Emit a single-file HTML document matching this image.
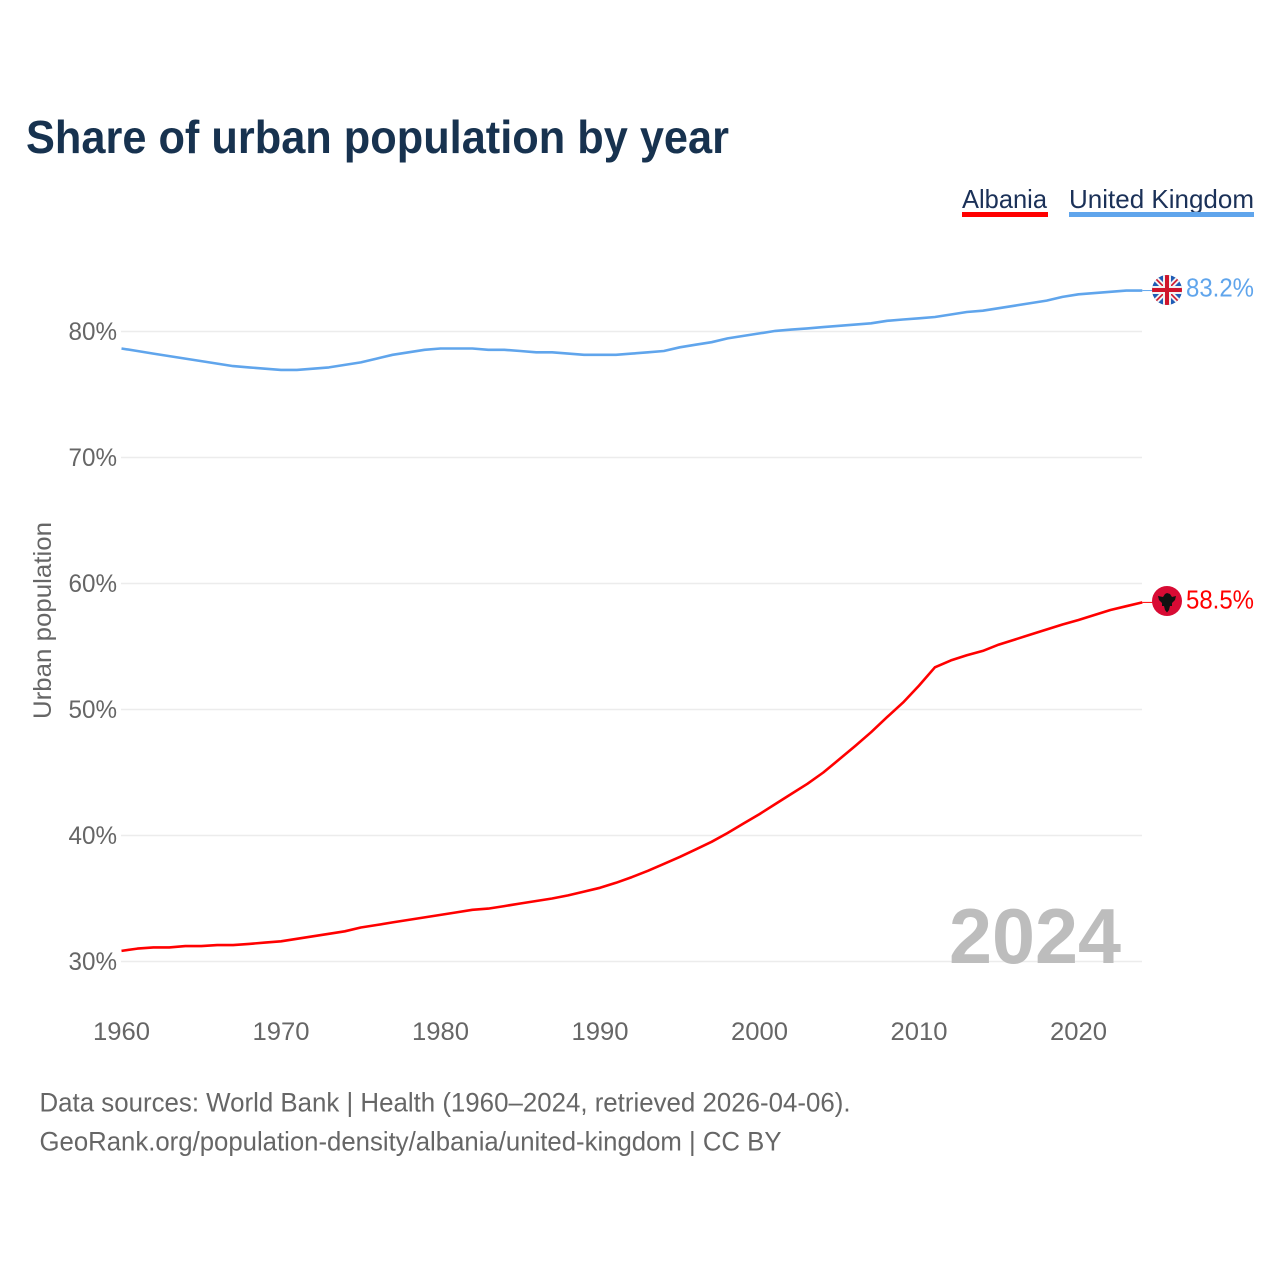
<!DOCTYPE html>
<html>
<head>
<meta charset="utf-8">
<style>
html,body{margin:0;padding:0;background:#fff;}
svg{display:block;}
text{font-family:"Liberation Sans",sans-serif;}
</style>
</head>
<body>
<svg id="chart" xmlns="http://www.w3.org/2000/svg" width="1280" height="1280" viewBox="0 0 1280 1280">
  <rect x="0" y="0" width="1280" height="1280" fill="#fff"/>
  <text x="26" y="153" font-size="46" font-weight="700" fill="#17324f" textLength="703" lengthAdjust="spacingAndGlyphs">Share of urban population by year</text>

  <g>
    <text x="962" y="208" font-size="26" fill="#1b3158" textLength="85" lengthAdjust="spacingAndGlyphs">Albania</text>
    <rect x="962" y="212" width="86" height="5" fill="#ff0000"/>
  </g>
  <g>
    <text x="1069" y="208" font-size="26" fill="#1b3158" textLength="185" lengthAdjust="spacingAndGlyphs">United Kingdom</text>
    <rect x="1069" y="212" width="185" height="5" fill="#60a5ec"/>
  </g>

  <g id="grid"></g>
  <g id="yticks"></g>
  <g id="xticks"></g>

  <text transform="translate(51,620.5) rotate(-90)" text-anchor="middle" font-size="25" fill="#666" textLength="197" lengthAdjust="spacingAndGlyphs">Urban population</text>

  <text x="949" y="963" font-size="78" font-weight="700" fill="#bdbdbd" textLength="172" lengthAdjust="spacingAndGlyphs">2024</text>

  <g id="series"></g>

  <defs>
    <clipPath id="uk-clip"><circle cx="1167" cy="290" r="15"/></clipPath>
  </defs>
  <g clip-path="url(#uk-clip)">
    <rect x="1152" y="275" width="30" height="30" fill="#1f5bb5"/>
    <path d="M1152 275L1182 305M1182 275L1152 305" stroke="#f2f2f2" stroke-width="5.5"/>
    <path d="M1152 275L1182 305M1182 275L1152 305" stroke="#cf142b" stroke-width="1.6"/>
    <path d="M1167 275V305M1152 290H1182" stroke="#f2f2f2" stroke-width="8"/>
    <path d="M1167 275V305M1152 290H1182" stroke="#cf142b" stroke-width="4"/>
  </g>
  <g>
    <circle cx="1167" cy="601" r="15" fill="#d80b34"/>
    <path d="M1158 596L1163 597L1165 594L1167 593L1170 594L1172 597L1176 596L1175 600L1172 603L1172 606L1170 606L1169 610L1167 612.5L1165 610L1164 606L1162 606L1162 603L1159 600Z" fill="#111"/>
  </g>

  <g id="end-labels"></g>

  <text x="39.5" y="1111.5" font-size="26.5" fill="#666" textLength="811" lengthAdjust="spacingAndGlyphs">Data sources: World Bank | Health (1960–2024, retrieved 2026-04-06).</text>
  <text x="39.5" y="1150.5" font-size="26.5" fill="#666" textLength="742" lengthAdjust="spacingAndGlyphs">GeoRank.org/population-density/albania/united-kingdom | CC BY</text>
</svg>
<script>
const years = [1960,1961,1962,1963,1964,1965,1966,1967,1968,1969,1970,1971,1972,1973,1974,1975,1976,1977,1978,1979,1980,1981,1982,1983,1984,1985,1986,1987,1988,1989,1990,1991,1992,1993,1994,1995,1996,1997,1998,1999,2000,2001,2002,2003,2004,2005,2006,2007,2008,2009,2010,2011,2012,2013,2014,2015,2016,2017,2018,2019,2020,2021,2022,2023,2024];
const albaniaValues = [30.84,31.02,31.12,31.12,31.22,31.22,31.3,31.3,31.4,31.5,31.6,31.8,32.0,32.2,32.4,32.7,32.9,33.1,33.3,33.5,33.7,33.9,34.1,34.2,34.4,34.6,34.8,35.0,35.25,35.55,35.85,36.25,36.7,37.2,37.75,38.3,38.9,39.5,40.2,40.95,41.7,42.5,43.3,44.1,45.0,46.05,47.1,48.2,49.4,50.55,51.9,53.35,53.9,54.3,54.65,55.15,55.55,55.95,56.35,56.75,57.1,57.5,57.9,58.2,58.5];
const ukValues = [78.65,78.45,78.25,78.05,77.85,77.65,77.45,77.25,77.15,77.05,76.95,76.95,77.05,77.15,77.35,77.55,77.85,78.15,78.35,78.55,78.65,78.65,78.65,78.55,78.55,78.45,78.35,78.35,78.25,78.15,78.15,78.15,78.25,78.35,78.45,78.75,78.95,79.15,79.45,79.65,79.85,80.05,80.15,80.25,80.35,80.45,80.55,80.65,80.85,80.95,81.05,81.15,81.35,81.55,81.65,81.85,82.05,82.25,82.45,82.75,82.95,83.05,83.15,83.25,83.25];
const yTickValues = [30,40,50,60,70,80];
const xTickValues = [1960,1970,1980,1990,2000,2010,2020];
const albaniaLabel = "58.5%";
const ukLabel = "83.2%";

const NS = "http://www.w3.org/2000/svg";
function xScale(year){ return 121.5 + (year - 1960) * 15.95; }
function yScale(v){ return 961.5 - (v - 30) * 12.6; }

const grid = document.getElementById("grid");
const yticks = document.getElementById("yticks");
const xticks = document.getElementById("xticks");
const series = document.getElementById("series");
const endLabels = document.getElementById("end-labels");

yTickValues.forEach(function(v){
  const line = document.createElementNS(NS, "line");
  
  
  line.setAttribute("x1", 121);
  line.setAttribute("x2", 1142);
  line.setAttribute("y1", yScale(v));
  line.setAttribute("y2", yScale(v));
  line.setAttribute("stroke", "#ececec");
  line.setAttribute("stroke-width", 1.4);
  grid.appendChild(line);

  const t = document.createElementNS(NS, "text");
  
  
  t.setAttribute("x", 68.5);
  t.setAttribute("y", yScale(v) + 8.5);
  t.setAttribute("font-size", 25);
  t.setAttribute("fill", "#666");
  t.setAttribute("textLength", 48.5);
  t.setAttribute("lengthAdjust", "spacingAndGlyphs");
  t.textContent = v + "%";
  yticks.appendChild(t);
});

xTickValues.forEach(function(yr){
  const t = document.createElementNS(NS, "text");
  
  
  t.setAttribute("x", xScale(yr) - 28.5);
  t.setAttribute("y", 1040);
  t.setAttribute("font-size", 25);
  t.setAttribute("fill", "#666");
  t.setAttribute("textLength", 57);
  t.setAttribute("lengthAdjust", "spacingAndGlyphs");
  t.textContent = yr;
  xticks.appendChild(t);
});

function linePath(values){
  return values.map(function(v, i){
    return (i ? "L" : "M") + xScale(years[i]).toFixed(1) + " " + yScale(v).toFixed(1);
  }).join(" ");
}

const albaniaLine = document.createElementNS(NS, "path");


albaniaLine.setAttribute("d", linePath(albaniaValues));
albaniaLine.setAttribute("fill", "none");
albaniaLine.setAttribute("stroke", "#ff0000");
albaniaLine.setAttribute("stroke-width", 2.6);
albaniaLine.setAttribute("stroke-linejoin", "round");
series.appendChild(albaniaLine);

const ukLine = document.createElementNS(NS, "path");


ukLine.setAttribute("d", linePath(ukValues));
ukLine.setAttribute("fill", "none");
ukLine.setAttribute("stroke", "#60a5ec");
ukLine.setAttribute("stroke-width", 2.6);
ukLine.setAttribute("stroke-linejoin", "round");
series.appendChild(ukLine);

const albaniaLead = document.createElementNS(NS, "line");


albaniaLead.setAttribute("x1", xScale(2024));
albaniaLead.setAttribute("x2", 1153);
albaniaLead.setAttribute("y1", yScale(albaniaValues[albaniaValues.length - 1]));
albaniaLead.setAttribute("y2", yScale(albaniaValues[albaniaValues.length - 1]));
albaniaLead.setAttribute("stroke", "#ff0000");
albaniaLead.setAttribute("stroke-width", 1);
series.appendChild(albaniaLead);

const ukLead = document.createElementNS(NS, "line");


ukLead.setAttribute("x1", xScale(2024));
ukLead.setAttribute("x2", 1153);
ukLead.setAttribute("y1", yScale(ukValues[ukValues.length - 1]));
ukLead.setAttribute("y2", yScale(ukValues[ukValues.length - 1]));
ukLead.setAttribute("stroke", "#60a5ec");
ukLead.setAttribute("stroke-width", 1);
series.appendChild(ukLead);

const ukText = document.createElementNS(NS, "text");


ukText.setAttribute("x", 1186);
ukText.setAttribute("y", 296.5);
ukText.setAttribute("font-size", 25.5);
ukText.setAttribute("fill", "#60a5ec");
ukText.setAttribute("textLength", 68);
ukText.setAttribute("lengthAdjust", "spacingAndGlyphs");
ukText.textContent = ukLabel;
endLabels.appendChild(ukText);

const albaniaText = document.createElementNS(NS, "text");


albaniaText.setAttribute("x", 1186);
albaniaText.setAttribute("y", 608.5);
albaniaText.setAttribute("font-size", 25.5);
albaniaText.setAttribute("fill", "#ff0000");
albaniaText.setAttribute("textLength", 68);
albaniaText.setAttribute("lengthAdjust", "spacingAndGlyphs");
albaniaText.textContent = albaniaLabel;
endLabels.appendChild(albaniaText);
</script>
</body>
</html>
